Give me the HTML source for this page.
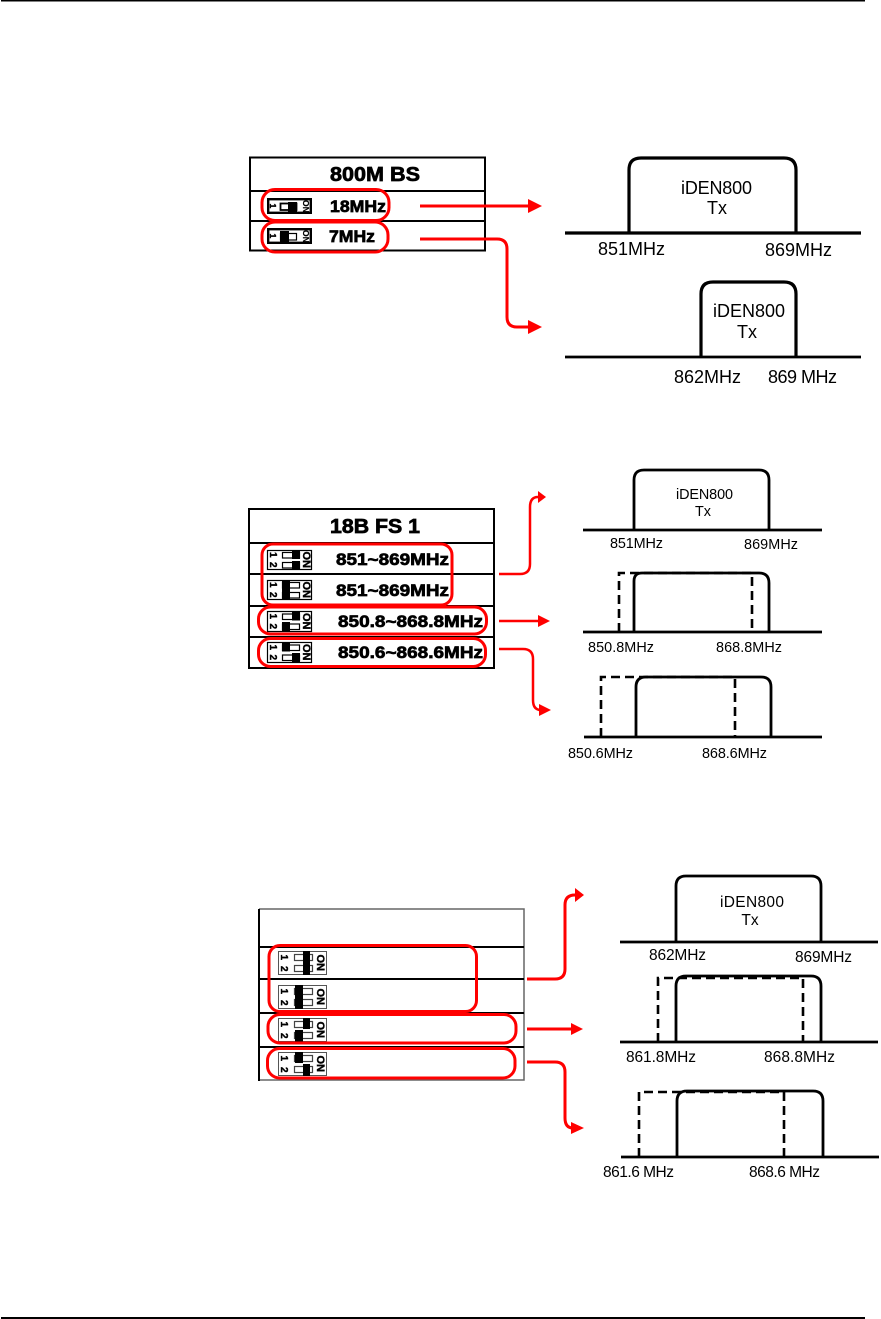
<!DOCTYPE html>
<html><head><meta charset="utf-8"><style>
html,body{margin:0;padding:0;background:#fff;width:881px;height:1319px;overflow:hidden}
svg{display:block}
text{font-family:"Liberation Sans",sans-serif;fill:#000}
.b{font-weight:bold;stroke:#000;stroke-width:.7}
.d{font-weight:bold;font-size:10px;stroke:#000;stroke-width:.4}
.o{font-weight:bold;font-size:11px;stroke:#000;stroke-width:.4}
.r{fill:none;stroke:#f00;stroke-width:3}
.a{fill:none;stroke:#f00;stroke-width:3}
.h{fill:#f00;stroke:none}
.s{fill:none;stroke:#000;stroke-width:3.2}
.l{fill:none;stroke:#000;stroke-width:2.8}
.x{fill:none;stroke:#000;stroke-width:2.6;stroke-dasharray:9 5}
.w{fill:#fff;stroke:#000;stroke-width:1.2}
</style></head><body>
<svg width="881" height="1319" viewBox="0 0 881 1319" xmlns="http://www.w3.org/2000/svg">
<rect width="881" height="1319" fill="#fff"/>
<rect x="1" y="0" width="864" height="1.5" fill="#000"/>
<rect x="1" y="1317" width="864" height="2" fill="#000"/>

<!-- Table 1 -->
<g fill="none" stroke="#000" stroke-width="2">
<rect x="250" y="157.500" width="235" height="93"/>
<path d="M250 191H485M250 221H485"/>
</g>
<text class="b" x="330" y="181" font-size="20" textLength="90" lengthAdjust="spacingAndGlyphs">800M BS</text>
<text class="b" x="330" y="212" font-size="17" textLength="56" lengthAdjust="spacingAndGlyphs">18MHz</text>
<text class="b" x="329" y="242" font-size="17" textLength="46" lengthAdjust="spacingAndGlyphs">7MHz</text>
<g transform="translate(267,198)">
<rect x="1.200" y="1.200" width="42.600" height="13.600" fill="#fff" stroke="#000" stroke-width="2.400"/>
<rect x="13.500" y="5.500" width="16" height="6.500" class="w" style="stroke-width:1.800"/><rect x="21" y="4" width="9" height="10"/>
<text class="d" transform="translate(3,5.500) rotate(90)" style="font-size:8.500px">1</text>
<text class="o" transform="translate(36,2) rotate(90)" style="font-size:8.500px;stroke-width:.2">ON</text>
</g>
<g transform="translate(267,228)">
<rect x="1.200" y="1.200" width="42.600" height="13.600" fill="#fff" stroke="#000" stroke-width="2.400"/>
<rect x="13.500" y="5.500" width="16" height="6.500" class="w"/><rect x="13" y="3" width="9" height="11"/>
<text class="d" transform="translate(3,5.500) rotate(90)" style="font-size:8.500px">1</text>
<text class="o" transform="translate(36,2) rotate(90)" style="font-size:8.500px;stroke-width:.2">ON</text>
</g>
<rect class="r" x="262" y="189.500" width="127" height="31" rx="13"/>
<rect class="r" x="262" y="222" width="126" height="30" rx="13"/>
<path class="a" d="M420 206H530"/><path class="h" d="M528 199L542 206L528 213Z"/>
<path class="a" d="M420 239H497Q507 239 507 249V317Q507 327 517 327H530"/><path class="h" d="M528 320L542 327L528 334Z"/>

<!-- Spectrum 1 -->
<path class="s" d="M565 233H861"/>
<path class="s" d="M629 233V170Q629 158 641 158H784Q796 158 796 170V233"/>
<text x="681" y="194" font-size="18" textLength="71" lengthAdjust="spacing">iDEN800</text>
<text x="717" y="214" font-size="18" text-anchor="middle">Tx</text>
<text x="598" y="255" font-size="18" textLength="67" lengthAdjust="spacing">851MHz</text>
<text x="765" y="256" font-size="18" textLength="67" lengthAdjust="spacing">869MHz</text>
<!-- Spectrum 2 -->
<path class="l" d="M565 357H861"/>
<path class="s" d="M701 357V294Q701 282 713 282H784Q796 282 796 294V357"/>
<text x="713" y="317" font-size="18" textLength="72" lengthAdjust="spacing">iDEN800</text>
<text x="747" y="338" font-size="18" text-anchor="middle">Tx</text>
<text x="674" y="383" font-size="18" textLength="67" lengthAdjust="spacing">862MHz</text>
<text x="768" y="383" font-size="18" textLength="69" lengthAdjust="spacing">869 MHz</text>

<!-- Table 2 -->
<g fill="none" stroke="#000" stroke-width="2">
<rect x="249" y="509" width="245" height="159"/>
<path d="M249 543H494M249 574H494M249 606H494M249 637H494"/>
</g>
<text class="b" x="330" y="533" font-size="20" textLength="90" lengthAdjust="spacingAndGlyphs">18B FS 1</text>
<text class="b" x="336" y="565" font-size="17" textLength="113" lengthAdjust="spacingAndGlyphs">851~869MHz</text>
<text class="b" x="336" y="596" font-size="17" textLength="113" lengthAdjust="spacingAndGlyphs">851~869MHz</text>
<text class="b" x="338" y="627" font-size="17" textLength="145" lengthAdjust="spacingAndGlyphs">850.8~868.8MHz</text>
<text class="b" x="338" y="658" font-size="17" textLength="145" lengthAdjust="spacingAndGlyphs">850.6~868.6MHz</text>
<g transform="translate(267,550)">
<rect x=".5" y=".5" width="44" height="19" class="w"/>
<rect x="15.500" y="2.500" width="17" height="5.500" class="w"/><rect x="15.500" y="12.500" width="17" height="5.500" class="w"/>
<rect x="25" y="0" width="8" height="9"/><rect x="25" y="11" width="8" height="9"/>
<text class="d" transform="translate(3,2) rotate(90)">1</text><text class="d" transform="translate(3,12) rotate(90)">2</text>
<text class="o" transform="translate(36,1.500) rotate(90)">ON</text>
</g>
<g transform="translate(267,580)">
<rect x=".5" y=".5" width="44" height="19" class="w"/>
<rect x="15.500" y="2.500" width="17" height="5.500" class="w"/><rect x="15.500" y="12.500" width="17" height="5.500" class="w"/>
<rect x="15" y="0" width="8" height="20"/>
<text class="d" transform="translate(3,2) rotate(90)">1</text><text class="d" transform="translate(3,12) rotate(90)">2</text>
<text class="o" transform="translate(36,1.500) rotate(90)">ON</text>
</g>
<g transform="translate(267,611)">
<rect x=".5" y=".5" width="44" height="20" class="w"/>
<rect x="15.500" y="3" width="17" height="5.500" class="w"/><rect x="15.500" y="13" width="17" height="5.500" class="w"/>
<rect x="25" y="0" width="8" height="9.500"/><rect x="15" y="11" width="8" height="10"/>
<text class="d" transform="translate(3,2.500) rotate(90)">1</text><text class="d" transform="translate(3,12.500) rotate(90)">2</text>
<text class="o" transform="translate(36,2) rotate(90)">ON</text>
</g>
<g transform="translate(267,642)">
<rect x=".5" y=".5" width="44" height="20" class="w"/>
<rect x="15.500" y="3" width="17" height="5.500" class="w"/><rect x="15.500" y="13" width="17" height="5.500" class="w"/>
<rect x="15" y="0" width="8" height="9.500"/><rect x="25" y="11" width="8" height="10"/>
<text class="d" transform="translate(3,2.500) rotate(90)">1</text><text class="d" transform="translate(3,12.500) rotate(90)">2</text>
<text class="o" transform="translate(36,2) rotate(90)">ON</text>
</g>
<rect class="r" x="262" y="544" width="190" height="61" rx="11"/>
<rect class="r" x="258.500" y="607" width="228" height="27" rx="12"/>
<rect class="r" x="258.500" y="638.500" width="227" height="28" rx="12"/>
<path class="a" d="M499 574H520Q530 574 530 564V507Q530 497 538 497" style="stroke-width:2.500"/><path class="h" d="M538 491L546 497L538 503Z"/>
<path class="a" d="M499 621H540" style="stroke-width:2.500"/><path class="h" d="M538 615L550 621L538 627Z"/>
<path class="a" d="M499 649H523Q533 649 533 659V700Q533 710 541 710" style="stroke-width:2.500"/><path class="h" d="M539 704L551 710L539 716Z"/>

<!-- Spectrum 3 -->
<path class="l" d="M583 530H822"/>
<path class="l" d="M634 530V480Q634 470 644 470H759Q769 470 769 480V530"/>
<text x="676" y="499" font-size="14.400" textLength="57" lengthAdjust="spacing">iDEN800</text>
<text x="703" y="516" font-size="14.400" text-anchor="middle">Tx</text>
<text x="610" y="548" font-size="14.400" textLength="53" lengthAdjust="spacing">851MHz</text>
<text x="744" y="549" font-size="14.400" textLength="54" lengthAdjust="spacing">869MHz</text>
<!-- Spectrum 4 -->
<path class="l" d="M583 632H822"/>
<path class="x" d="M619 632V573H752V632"/>
<path class="l" d="M634 632V581Q634 573 642 573H759Q769 573 769 583V632"/>
<text x="588" y="652" font-size="14.400" textLength="66" lengthAdjust="spacing">850.8MHz</text>
<text x="716" y="652" font-size="14.400" textLength="66" lengthAdjust="spacing">868.8MHz</text>
<!-- Spectrum 5 -->
<path class="l" d="M584 737H822"/>
<path class="x" d="M601 737V677H735V737"/>
<path class="l" d="M636 737V687Q636 677 646 677H761Q771 677 771 687V737"/>
<text x="568" y="758" font-size="14.400" textLength="65" lengthAdjust="spacing">850.6MHz</text>
<text x="702" y="758" font-size="14.400" textLength="65" lengthAdjust="spacing">868.6MHz</text>

<!-- Table 3 -->
<g fill="none" stroke="#666" stroke-width="1.500"><path d="M259 909H524V1080H259"/></g>
<g fill="none" stroke="#000" stroke-width="2"><path d="M259 909V1081M259 947H524M259 979H524M259 1013H524M259 1047H524"/></g>
<g transform="translate(278,951)">
<rect x=".5" y=".5" width="48" height="23" fill="#fff" stroke="#555" stroke-width="1"/>
<rect x="16.500" y="3.500" width="18" height="6" class="w" style="stroke:#444"/><rect x="16.500" y="14.500" width="18" height="6" class="w" style="stroke:#444"/>
<rect x="25" y="0" width="7" height="24"/>
<text class="d" transform="translate(3,3.500) rotate(90)">1</text><text class="d" transform="translate(3,15) rotate(90)">2</text>
<text class="o" transform="translate(39,3.500) rotate(90)">ON</text>
</g>
<g transform="translate(278,985)">
<rect x=".5" y=".5" width="48" height="23" fill="#fff" stroke="#555" stroke-width="1"/>
<rect x="16.500" y="3.500" width="18" height="6" class="w" style="stroke:#444"/><rect x="16.500" y="14.500" width="18" height="6" class="w" style="stroke:#444"/>
<rect x="17" y="0" width="8" height="24"/>
<text class="d" transform="translate(3,3.500) rotate(90)">1</text><text class="d" transform="translate(3,15) rotate(90)">2</text>
<text class="o" transform="translate(39,3.500) rotate(90)">ON</text>
</g>
<g transform="translate(278,1018)">
<rect x=".5" y=".5" width="48" height="23" fill="#fff" stroke="#555" stroke-width="1"/>
<rect x="16.500" y="3.500" width="18" height="6" class="w" style="stroke:#444"/><rect x="16.500" y="14.500" width="18" height="6" class="w" style="stroke:#444"/>
<rect x="25" y="0" width="7" height="11"/><rect x="17" y="12" width="8" height="12"/>
<text class="d" transform="translate(3,3.500) rotate(90)">1</text><text class="d" transform="translate(3,15) rotate(90)">2</text>
<text class="o" transform="translate(39,3.500) rotate(90)">ON</text>
</g>
<g transform="translate(278,1052)">
<rect x=".5" y=".5" width="48" height="23" fill="#fff" stroke="#555" stroke-width="1"/>
<rect x="16.500" y="3.500" width="18" height="6" class="w" style="stroke:#444"/><rect x="16.500" y="14.500" width="18" height="6" class="w" style="stroke:#444"/>
<rect x="17" y="0" width="8" height="11"/><rect x="25" y="12" width="7" height="12"/>
<text class="d" transform="translate(3,3.500) rotate(90)">1</text><text class="d" transform="translate(3,15) rotate(90)">2</text>
<text class="o" transform="translate(39,3.500) rotate(90)">ON</text>
</g>
<rect class="r" x="269" y="945.500" width="207.500" height="66" rx="11"/>
<rect class="r" x="268" y="1014.500" width="248" height="28.500" rx="12"/>
<rect class="r" x="267.500" y="1048.500" width="247.500" height="29.500" rx="12"/>
<path class="a" d="M527 979H555Q565 979 565 969V905Q565 895 575 895"/><path class="h" d="M575 888L584 895L575 902Z"/>
<path class="a" d="M527 1029H573"/><path class="h" d="M571 1023L583 1029L571 1035Z"/>
<path class="a" d="M527 1062H555Q565 1062 565 1072V1118Q565 1128 573 1128"/><path class="h" d="M571 1122L584 1128L571 1134Z"/>

<!-- Spectrum 6 -->
<path class="l" d="M620 942H878"/>
<path class="l" d="M676 942V886Q676 876 686 876H811Q821 876 821 886V942"/>
<text x="720" y="907" font-size="15.500" textLength="64" lengthAdjust="spacing">iDEN800</text>
<text x="750" y="925" font-size="15.500" text-anchor="middle">Tx</text>
<text x="649" y="960" font-size="15.500" textLength="57" lengthAdjust="spacing">862MHz</text>
<text x="795" y="962" font-size="15.500" textLength="57" lengthAdjust="spacing">869MHz</text>
<!-- Spectrum 7 -->
<path class="l" d="M620 1042H878"/>
<path class="x" d="M658 1042V978H803V1042"/>
<path class="l" d="M676 1042V986Q676 976 686 976H811Q821 976 821 986V1042"/>
<text x="626" y="1062" font-size="15.500" textLength="70" lengthAdjust="spacing">861.8MHz</text>
<text x="764" y="1062" font-size="15.500" textLength="71" lengthAdjust="spacing">868.8MHz</text>
<!-- Spectrum 8 -->
<path class="l" d="M621 1157H879"/>
<path class="x" d="M639 1157V1092H784V1157"/>
<path class="l" d="M677 1157V1101Q677 1091 687 1091H813Q823 1091 823 1101V1157"/>
<text x="603" y="1177" font-size="15.500" textLength="71" lengthAdjust="spacing">861.6 MHz</text>
<text x="749" y="1177" font-size="15.500" textLength="71" lengthAdjust="spacing">868.6 MHz</text>
</svg>
</body></html>
